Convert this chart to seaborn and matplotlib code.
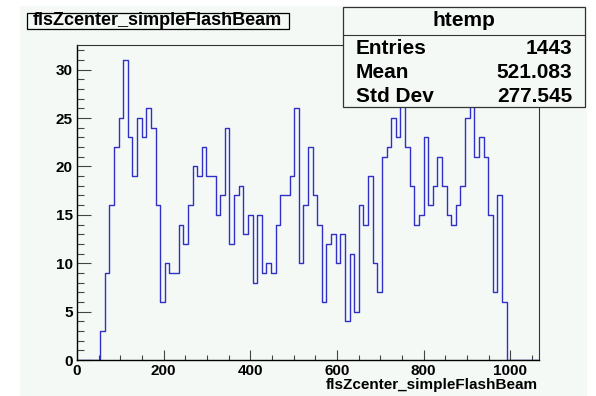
import numpy as np
import pandas as pd
import matplotlib
matplotlib.use("Agg")
import matplotlib.pyplot as plt
from matplotlib.patches import Rectangle
from matplotlib.ticker import MultipleLocator
import seaborn as sns

# histogram: 100 bins between x_lo and x_hi
x_lo = 0.0
x_hi = 1066.0
n_bins = 100
counts = [0, 0, 0, 0, 0,
          3, 9, 16, 22, 25, 31, 23, 19, 25, 23, 26, 24, 16, 6, 10, 9, 9, 14, 12, 16,
          20, 19, 22, 19, 19, 15, 17, 24,
          12, 17, 18, 13, 15, 8, 15, 9, 10, 9, 14, 17, 17, 19, 26, 10, 16, 22, 17,
          14, 6, 12, 13, 10, 13, 4, 11, 5, 16, 14, 19, 10, 7, 21, 22, 25, 23,
          29, 22, 18, 14, 15, 23, 16, 18, 21, 18, 15, 14, 16, 18, 25, 29, 21, 23,
          21, 15, 7, 17, 6,
          0, 0, 0, 0, 0, 0, 0]

hist_name = "flsZcenter_simpleFlashBeam"
stats_title = "htemp"
stats_labels = ["Entries", "Mean", "Std Dev"]
stats_values = ["1443", "521.083", "277.545"]

edges = np.linspace(x_lo, x_hi, n_bins + 1)
df = pd.DataFrame({"z": (edges[:-1] + edges[1:]) / 2, "n": counts})

plt.rcParams["font.family"] = ["Liberation Sans", "DejaVu Sans"]
plt.rcParams["font.weight"] = "bold"

bg = "#f4f9f6"
line_col = "#3030c8"

fig = plt.figure(figsize=(5.96, 3.96), dpi=100, facecolor="white")
fig.patches.append(Rectangle((20 / 596, 0), 567 / 596, 390 / 396, transform=fig.transFigure,
                             facecolor=bg, edgecolor="none", zorder=-5))

ax = fig.add_axes([77 / 596, 1 - 360 / 396, 462 / 596, 315 / 396])
ax.set_facecolor(bg)

sns.histplot(data=df, x="z", weights="n", bins=n_bins, binrange=(x_lo, x_hi),
             element="step", fill=False, color=line_col, linewidth=1.0, ax=ax, zorder=2)

ax.set_xlim(x_lo, x_hi)
ax.set_ylim(0, max(counts) * 1.05)
ax.set_xlabel("")
ax.set_ylabel("")

ax.xaxis.set_major_locator(MultipleLocator(200))
ax.xaxis.set_minor_locator(MultipleLocator(50))
ax.yaxis.set_major_locator(MultipleLocator(5))
ax.yaxis.set_minor_locator(MultipleLocator(1))
ax.tick_params(axis="both", which="both", direction="in", labelsize=11, color="#444444", width=0.8)
ax.tick_params(axis="y", which="major", length=10, pad=3)
ax.tick_params(axis="y", which="minor", length=5)
ax.tick_params(axis="x", which="major", length=7, pad=3)
ax.tick_params(axis="x", which="minor", length=3.5)
for lab in ax.get_xticklabels() + ax.get_yticklabels():
    lab.set_fontweight("bold")

for side in ["left", "bottom"]:
    ax.spines[side].set_color("black")
    ax.spines[side].set_linewidth(1.0)
for side in ["top", "right"]:
    ax.spines[side].set_color("#333333")
    ax.spines[side].set_linewidth(0.8)

# x axis title, right aligned
fig.text(538 / 596, 1 - 388.5 / 396, hist_name, ha="right", va="baseline",
         fontsize=11, fontweight="bold")

# title box
fig.patches.append(Rectangle((27 / 596, 1 - 29.3 / 396), 261.5 / 596, 16 / 396,
                             transform=fig.transFigure, facecolor=bg,
                             edgecolor="black", linewidth=0.9, zorder=3))
fig.text(157.5 / 596, 1 - 25 / 396, hist_name, ha="center", va="baseline",
         fontsize=13, fontweight="bold", zorder=4)

# stats box
fig.patches.append(Rectangle((343 / 596, 1 - 107 / 396), 242 / 596, 100 / 396,
                             transform=fig.transFigure, facecolor=bg,
                             edgecolor="#333333", linewidth=0.9, zorder=3))
fig.lines.append(plt.Line2D([343 / 596, 585 / 596], [1 - 35 / 396, 1 - 35 / 396],
                            transform=fig.transFigure, color="#333333", linewidth=0.8, zorder=4))
fig.text(464 / 596, 1 - 26.5 / 396, stats_title, ha="center", va="baseline",
         fontsize=15, fontweight="bold", zorder=5)
baselines = [54, 78, 101.5]
for lab, val, yb in zip(stats_labels, stats_values, baselines):
    fig.text(356 / 596, 1 - yb / 396, lab, ha="left", va="baseline",
             fontsize=15, fontweight="bold", zorder=5)
    fig.text(572 / 596, 1 - yb / 396, val, ha="right", va="baseline",
             fontsize=15, fontweight="bold", zorder=5)

fig.savefig("out.png", dpi=100, facecolor="white")
